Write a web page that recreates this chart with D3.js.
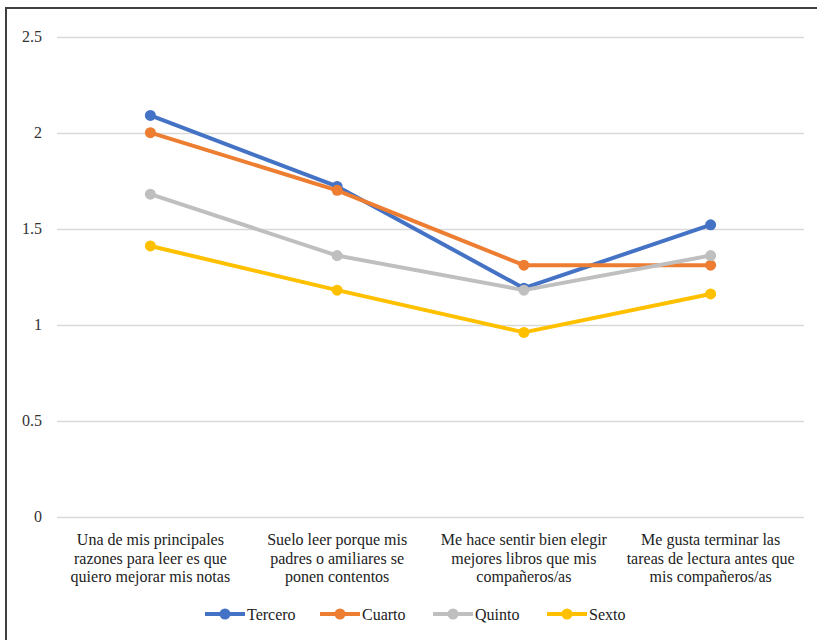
<!DOCTYPE html>
<html><head><meta charset="utf-8">
<script src="https://cdn.jsdelivr.net/npm/d3@7"></script>
<style>body{margin:0;background:#fff}svg{display:block}
svg text{font-family:"Liberation Serif","Times New Roman",Times,"DejaVu Serif",serif;}</style>
</head><body>
<script>
const categories = [
  ["Una de mis principales","razones para leer es que","quiero mejorar mis notas"],
  ["Suelo leer porque mis","padres o amiliares se","ponen contentos"],
  ["Me hace sentir bien elegir","mejores libros que mis","compañeros/as"],
  ["Me gusta terminar las","tareas de lectura antes que","mis compañeros/as"]
];
const seriesNames = ["Tercero","Cuarto","Quinto","Sexto"];
const tercero = [2.09, 1.72, 1.19, 1.52];
const cuarto  = [2.00, 1.70, 1.31, 1.31];
const quinto  = [1.68, 1.36, 1.18, 1.36];
const sexto   = [1.41, 1.18, 0.96, 1.16];
const yTicks = [0, 0.5, 1, 1.5, 2, 2.5];
const colors = ["#4472C4","#ED7D31","#BFBFBF","#FFC000"];
const seriesValues = [tercero, cuarto, quinto, sexto];

const W = 817, H = 640;
const svg = d3.select("body").append("svg").attr("width", W).attr("height", H);

svg.append("rect").attr("x",6).attr("y",8).attr("width",1000).attr("height",1000)
  .attr("fill","none").attr("stroke","#404040").attr("stroke-width",2);

const x = d3.scaleBand().domain(d3.range(categories.length)).range([57, 804]);
const y = d3.scaleLinear().domain([0, 2.5]).range([516.7, 36.7]);

svg.append("g").selectAll("line").data(yTicks).join("line")
  .attr("x1",57).attr("x2",804)
  .attr("y1",d=>Math.round(y(d))+0.5).attr("y2",d=>Math.round(y(d))+0.5)
  .attr("stroke","#D9D9D9").attr("stroke-width",1.3);

svg.append("g").selectAll("text").data(yTicks).join("text")
  .attr("x",42).attr("y",d=>y(d)).attr("dy","0.35em")
  .attr("text-anchor","end").attr("font-size",16).attr("fill","#333")
  .text(d=>d);

const cg = svg.append("g").selectAll("text").data(categories).join("text")
  .attr("text-anchor","middle").attr("font-size",16).attr("fill","#222");
cg.each(function(lines,i){
  d3.select(this).selectAll("tspan").data(lines).join("tspan")
    .attr("x", x(i)+x.bandwidth()/2).attr("y",(d,j)=>545+j*18.5).text(d=>d);
});

const line = d3.line().x((d,i)=>x(i)+x.bandwidth()/2).y(d=>y(d));
seriesValues.forEach((vals,k)=>{
  const g = svg.append("g");
  g.append("path").attr("d",line(vals)).attr("fill","none")
    .attr("stroke",colors[k]).attr("stroke-width",4).attr("stroke-linejoin","round");
  g.selectAll("circle").data(vals).join("circle")
    .attr("cx",(d,i)=>x(i)+x.bandwidth()/2).attr("cy",d=>y(d)).attr("r",5.5)
    .attr("fill",colors[k]);
});

const legX = [205, 320, 433, 547];
const lg = svg.append("g").selectAll("g").data(seriesNames).join("g")
  .attr("transform",(d,i)=>`translate(${legX[i]},614)`);
lg.append("line").attr("x1",0).attr("x2",40).attr("stroke",(d,i)=>colors[i]).attr("stroke-width",4);
lg.append("circle").attr("cx",20).attr("r",5.5).attr("fill",(d,i)=>colors[i]);
lg.append("text").attr("x",42).attr("dy","0.35em").attr("font-size",16)
  .attr("fill","#222").text(d=>d);
</script>
</body></html>
